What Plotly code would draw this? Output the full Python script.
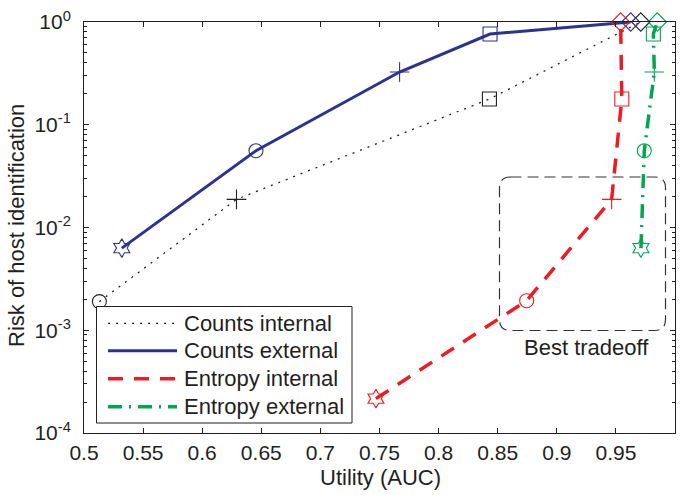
import plotly.graph_objects as go

# ---------------- data ----------------
series_names = ["Counts internal", "Counts external", "Entropy internal", "Entropy external"]

counts_int_x = [0.513, 0.629, 0.843, 0.971]
counts_int_y = [0.0019, 0.0188, 0.178, 1.0]
counts_int_sym = ["circle-open", "cross-thin-open", "square-open", "diamond-open"]

counts_ext_x = [0.532, 0.6455, 0.767, 0.8435, 0.9625]
counts_ext_y = [0.0063, 0.0559, 0.326, 0.764, 1.0]
counts_ext_sym = ["hexagram-open", "circle-open", "cross-thin-open", "square-open", "diamond-open"]

entropy_int_x = [0.747, 0.8745, 0.9464, 0.955, 0.954]
entropy_int_y = [0.000216, 0.00194, 0.0188, 0.178, 1.0]
entropy_int_sym = ["hexagram-open", "circle-open", "cross-thin-open", "square-open", "diamond-open"]

entropy_ext_x = [0.9712, 0.974, 0.9825, 0.9817, 0.985]
entropy_ext_y = [0.0063, 0.0559, 0.326, 0.764, 1.0]
entropy_ext_sym = ["hexagram-open", "circle-open", "cross-thin-open", "square-open", "diamond-open"]

x_ticks = [0.5, 0.55, 0.6, 0.65, 0.7, 0.75, 0.8, 0.85, 0.9, 0.95, 1.0]
x_tick_labels = ["0.5", "0.55", "0.6", "0.65", "0.7", "0.75", "0.8", "0.85", "0.9", "0.95", "1"]
y_ticks = [1e-4, 1e-3, 1e-2, 1e-1, 1.0]
y_tick_labels = ["10<sup>-4</sup>", "10<sup>-3</sup>", "10<sup>-2</sup>", "10<sup>-1</sup>", "10<sup>0</sup>"]

box_label = "Best tradeoff"
x_title = "Utility (AUC)"
y_title = "Risk of host identification"

# ---------------- styles ----------------
TXT = "#231f20"
FONT = "Liberation Sans, Arial, Helvetica, sans-serif"
FS = 22
TFS = 21
colors = ["#231f20", "#2e3192", "#ed1c24", "#00a651"]
widths = [1.3, 3.0, 3.5, 3.5]
dashes = ["2px,6px", "solid", "15px,11px", "14px,7px,2px,7px"]
msize = [14, 14, 14, 14]

W, H = 680, 495
ML, MR, MT, MB = 84, 5, 22, 62
PW, PH = W - ML - MR, H - MT - MB


def px(xp):
    return (xp - ML) / PW


def py(yp):
    return (H - MB - yp) / PH


fig = go.Figure()
data = [
    (counts_int_x, counts_int_y, counts_int_sym),
    (counts_ext_x, counts_ext_y, counts_ext_sym),
    (entropy_int_x, entropy_int_y, entropy_int_sym),
    (entropy_ext_x, entropy_ext_y, entropy_ext_sym),
]
for i, (xs, ys, syms) in enumerate(data):
    fig.add_trace(go.Scatter(
        x=xs, y=ys, name=series_names[i], mode="lines+markers",
        line=dict(color=colors[i], width=widths[i], dash=dashes[i]),
        marker=dict(symbol=syms, size=msize[i], color=colors[i],
                    line=dict(color=colors[i], width=1.1)),
        cliponaxis=False, showlegend=False,
    ))

# minor ticks on log axis
minor_vals = [m * 10 ** e for e in range(-4, 0) for m in range(2, 10)]

fig.update_layout(
    width=W, height=H,
    margin=dict(l=ML, r=MR, t=MT, b=MB),
    paper_bgcolor="white", plot_bgcolor="white",
    font=dict(family=FONT, size=FS, color=TXT),
    xaxis=dict(range=[0.5, 1.0], tickvals=x_ticks, ticktext=x_tick_labels,
               ticks="inside", ticklen=5, tickcolor=TXT, tickwidth=1,
               showline=True, linecolor=TXT, linewidth=1, mirror="ticks",
               showgrid=False, zeroline=False,
               tickfont=dict(family=FONT, size=TFS, color=TXT),
               ticklabelstandoff=1),
    yaxis=dict(type="log", range=[-4, 0], tickvals=y_ticks, ticktext=y_tick_labels,
               ticks="inside", ticklen=5, tickcolor=TXT, tickwidth=1,
               showline=True, linecolor=TXT, linewidth=1, mirror="ticks",
               showgrid=False, zeroline=False,
               minor=dict(ticks="inside", ticklen=3, tickcolor=TXT, tickvals=minor_vals, showgrid=False),
               tickfont=dict(family=FONT, size=TFS, color=TXT),
               ticklabelstandoff=8),
    showlegend=False,
)

shapes = []
annotations = []

# "Best tradeoff" rounded dashed box (paper coords from pixel layout)
bx0, bx1, by0, by1 = px(499.5), px(665.5), py(330.5), py(177)
rx, ry = 11 / PW, 11 / PH
path = (f"M {bx0+rx},{by1} L {bx1-rx},{by1} Q {bx1},{by1} {bx1},{by1-ry} "
        f"L {bx1},{by0+ry} Q {bx1},{by0} {bx1-rx},{by0} "
        f"L {bx0+rx},{by0} Q {bx0},{by0} {bx0},{by0+ry} "
        f"L {bx0},{by1-ry} Q {bx0},{by1} {bx0+rx},{by1} Z")
shapes.append(dict(type="path", xref="paper", yref="paper", path=path,
                   line=dict(color="#333333", width=1.2, dash="11px,6px")))
annotations.append(dict(xref="paper", yref="paper", x=px(586.5), y=py(347),
                        text=box_label, showarrow=False, xanchor="center", yanchor="middle",
                        font=dict(family=FONT, size=FS, color=TXT)))

# legend (custom, long line samples)
shapes.append(dict(type="rect", xref="paper", yref="paper",
                   x0=px(96.5), x1=px(352), y0=py(423), y1=py(306.5),
                   line=dict(color=TXT, width=1), fillcolor="white", layer="above"))
rows = [323.3, 350.7, 378.7, 406.7]
for i, r in enumerate(rows):
    shapes.append(dict(type="line", xref="paper", yref="paper",
                       x0=px(108), x1=px(177), y0=py(r), y1=py(r), layer="above",
                       line=dict(color=colors[i], width=widths[i], dash=dashes[i])))
    annotations.append(dict(xref="paper", yref="paper", x=px(182), y=py(r),
                            text=series_names[i], showarrow=False,
                            xanchor="left", yanchor="middle",
                            font=dict(family=FONT, size=FS, color=TXT)))

# axis titles
annotations.append(dict(xref="paper", yref="paper", x=px(380.5), y=py(477),
                        text=x_title, showarrow=False, xanchor="center", yanchor="middle",
                        font=dict(family=FONT, size=FS, color=TXT)))
annotations.append(dict(xref="paper", yref="paper", x=px(17), y=py(226),
                        text=y_title, showarrow=False, xanchor="center", yanchor="middle",
                        textangle=-90, font=dict(family=FONT, size=FS, color=TXT)))

fig.update_layout(shapes=shapes, annotations=annotations)
fig.write_html("out.html")
